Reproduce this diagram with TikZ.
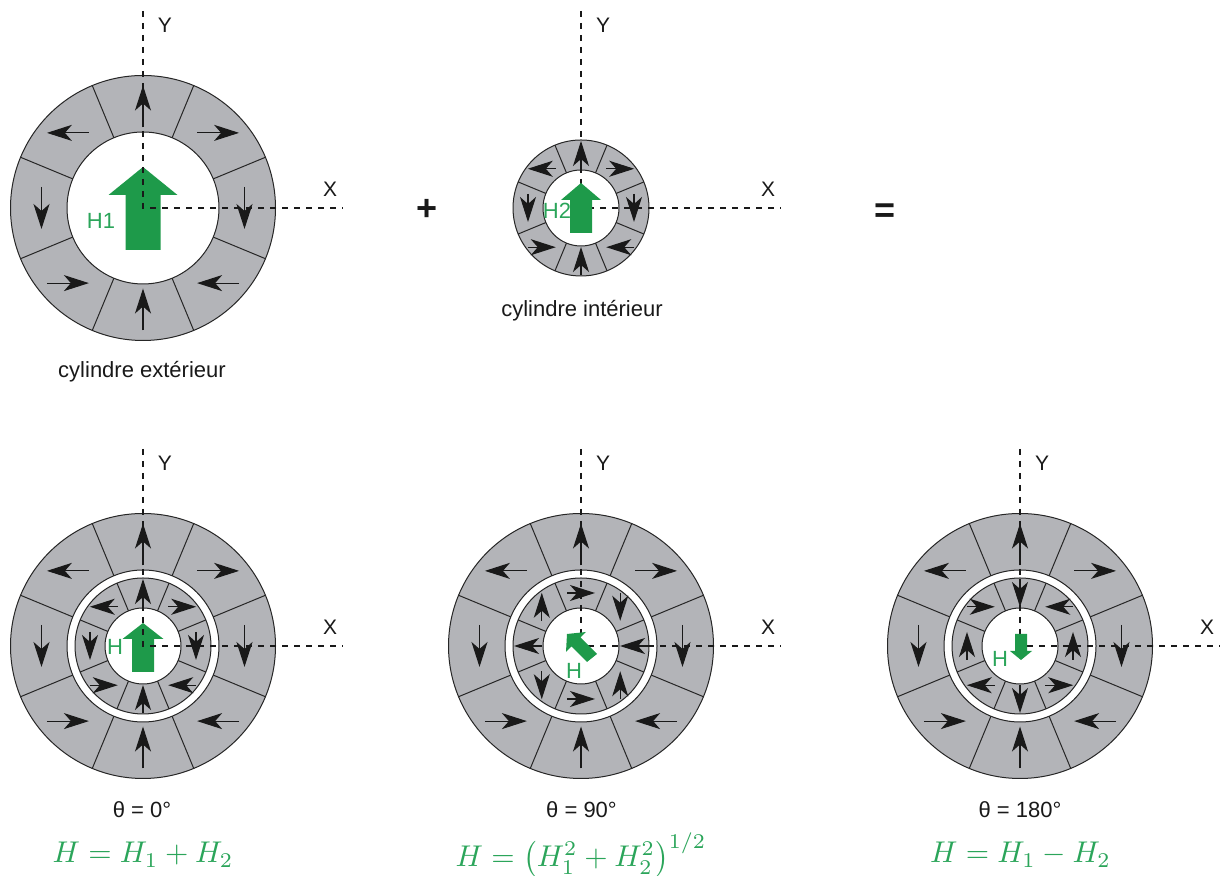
\documentclass[tikz,border=0pt]{standalone}
\usepackage{fontspec}
\setmainfont{Liberation Sans}
\usepackage{amsmath}
\usetikzlibrary{arrows.meta}
\definecolor{ringgray}{HTML}{B3B4B8}
\definecolor{fieldgreen}{HTML}{1E9A4A}
\definecolor{labelgreen}{HTML}{2BA55A}
% #1 r in, #2 r out, #3 arrow offset, #4 arrow half length, #5 rotation
\newcommand{\magring}[5]{
  \path[ringline,fill=ringgray,even odd rule] (0,0) circle (#2) (0,0) circle (#1);
  \foreach \a in {22.5,67.5,...,337.5} \draw[ringline] (\a:#1) -- (\a:#2);
  \foreach \px/\py/\d in {0/1/90,.74/.74/0,1/0/-90,.74/-.74/180,0/-1/90,-.74/-.74/0,-1/0/-90,-.74/.74/180}
    \draw[magarrow,shift={(\px*#3,\py*#3)},rotate=\d+#5] (-#4,0) -- (#4,0);
}
\newcommand{\magaxes}{
  \draw[axisline] (0,197) -- (0,0) -- (200,0);
  \node[axislabel] (y) at (22,183) {Y};
  \node[axislabel] (x) at (187,19) {X};
}
\newcommand{\upfield}[5]{
  \fill[fieldgreen] (0,#1) -- (#4,#2) -- (#5,#2) -- (#5,#3) -- (-#5,#3) -- (-#5,#2) -- (-#4,#2) -- cycle;
}
\begin{document}
\begin{tikzpicture}[
  x=.5pt, y=.5pt,
  ringline/.style={draw=black!85, line width=.5pt},
  magarrow/.style={-{Stealth[length=12.5pt,width=8pt,inset=3.5pt]}, line width=.55pt, black!90},
  axisline/.style={line width=.55pt, dash pattern=on 3pt off 3pt, black!90},
  axislabel/.style={font=\fontsize{10.5}{12}\selectfont, black!90},
  caption/.style={font=\fontsize{11}{13}\selectfont, black!90},
  hlabel/.style={font=\fontsize{11}{13}\selectfont, text=labelgreen},
  eqn/.style={text=labelgreen, scale=1.5},
  opsign/.style={font=\fontsize{18}{20}\selectfont\bfseries, black!90, inner sep=0pt}
]
\useasboundingbox (0,0) rectangle (1220,876);
% top row
\begin{scope}[shift={(143,668)}]
  \magring{76}{132.5}{101.5}{21}{0}
  \upfield{41}{13}{-42}{34.5}{17.5}
  \magaxes
  \node[hlabel] (h1) at (-42,-13) {H1};
\end{scope}
\begin{scope}[shift={(581,668)}]
  \magring{38}{68}{53}{14}{0}
  \magaxes
  \upfield{25}{8}{-25}{20}{11}
  \node[hlabel] (h2) at (-24,-3) {H2};
\end{scope}
\node[opsign] (plus) at (427,666) {+};
\node[opsign] (equal) at (885,663) {=};
\node[caption] (outer) at (142,504) {cylindre extérieur};
\node[caption] (inner) at (582,565) {cylindre intérieur};
% bottom row
\begin{scope}[shift={(143,230)}]
  \magring{76}{132.5}{101.5}{21}{0}
  \magring{38}{68}{53}{14}{0}
  \upfield{23}{7}{-26}{20.5}{11}
  \magaxes
  \node[hlabel] (h0) at (-28,-1) {H};
\end{scope}
\begin{scope}[shift={(581,230)}]
  \magring{76}{132.5}{101.5}{21}{0}
  \magring{38}{68}{53}{14}{-90}
  \magaxes
  \fill[fieldgreen] (-14,12) -- (5,14) -- (-.5,8.5) -- (16,-8) -- (6,-16) -- (-9.5,-.5) -- (-15,-6) -- cycle;
  \node[hlabel] (h90) at (-7,-25) {H};
\end{scope}
\begin{scope}[shift={(1020,230)}]
  \magring{76}{132.5}{101.5}{21}{0}
  \magring{38}{68}{53}{14}{180}
  \magaxes
  \fill[fieldgreen] (1,-14) -- (12,-5) -- (7,-5) -- (7,12) -- (-5,12) -- (-5,-5) -- (-10,-5) -- cycle;
  \node[hlabel] (h180) at (-20,-13) {H};
\end{scope}
\node[caption] (t0) at (142,66) {θ = 0°};
\node[caption] (t90) at (581.5,66) {θ = 90°};
\node[caption] (t180) at (1020,66) {θ = 180°};
\node[eqn] (eq0) at (143,21) {$H = H_1 + H_2$};
\node[eqn] (eq90) at (581,21) {$H = \bigl(H_1^2 + H_2^2\bigr)^{1/2}$};
\node[eqn] (eq180) at (1020.5,21) {$H = H_1 - H_2$};
\end{tikzpicture}
\end{document}
